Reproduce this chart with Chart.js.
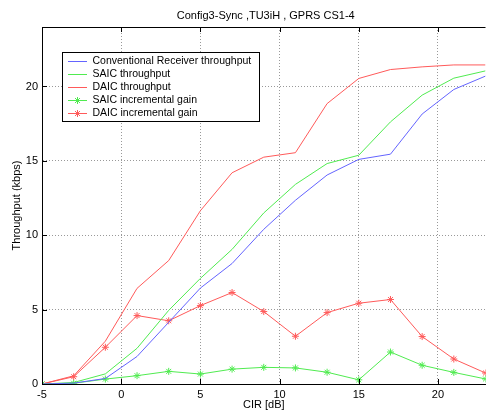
<!DOCTYPE html>
<html>
<head>
<meta charset="utf-8">
<script src="https://cdn.jsdelivr.net/npm/chart.js@4.4.0/dist/chart.umd.min.js"></script>
<style>
  html, body { margin: 0; padding: 0; background: #fff; }
</style>
</head>
<body>
<canvas id="chart" width="490" height="415"></canvas>
<script>
// CIR values (dB)
const cir = [-5, -3, -1, 1, 3, 5, 7, 9, 11, 13, 15, 17, 19, 21, 23];

// Throughput (kbps)
const convThroughput = [0, 0.06, 0.37, 1.85, 4.15, 6.45, 8.1, 10.4, 12.35, 14.05, 15.1, 15.45, 18.15, 19.8, 20.7];
const saicThroughput = [0, 0.1, 0.68, 2.4, 4.95, 7.1, 9.05, 11.5, 13.42, 14.82, 15.38, 17.62, 19.42, 20.56, 21.05];
const daicThroughput = [0, 0.55, 2.88, 6.43, 8.3, 11.65, 14.2, 15.25, 15.55, 18.85, 20.54, 21.14, 21.32, 21.45, 21.45];

// Incremental gains (kbps)
const saicGain = [0, 0.05, 0.33, 0.56, 0.85, 0.67, 1.0, 1.12, 1.08, 0.79, 0.28, 2.15, 1.26, 0.78, 0.34];
const daicGain = [0, 0.49, 2.47, 4.6, 4.25, 5.27, 6.15, 4.87, 3.21, 4.8, 5.43, 5.68, 3.19, 1.68, 0.74];

const seriesNames = [
    'Conventional Receiver throughput',
    'SAIC throughput',
    'DAIC throughput',
    'SAIC incremental gain',
    'DAIC incremental gain'
];

const xTicks = [-5, 0, 5, 10, 15, 20];
const yTicks = [0, 5, 10, 15, 20];

const chartTitle = 'Config3-Sync ,TU3iH , GPRS CS1-4';
const xLabel = 'CIR [dB]';
const yLabel = 'Throughput (kbps)';

const BLUE = 'rgb(100,100,255)';
const GREEN = 'rgb(80,235,80)';
const RED = 'rgb(255,90,90)';
const FONT = '"Liberation Sans", Arial, Helvetica, sans-serif';

function toPoints(ys) {
    return cir.map((x, i) => ({ x: x, y: ys[i] }));
}

function makeSet(label, ys, color, marker) {
    return {
        label: label,
        data: toPoints(ys),
        borderColor: color,
        backgroundColor: color,
        borderWidth: 1,
        pointStyle: 'star',
        pointRadius: marker ? 3.5 : 0,
        pointBorderWidth: 1,
        pointHoverRadius: marker ? 3.5 : 0,
        tension: 0
    };
}

function drawStar(ctx, x, y, r) {
    for (let a = 0; a < 4; a++) {
        let ang = a * Math.PI / 4;
        ctx.beginPath();
        ctx.moveTo(x - r * Math.cos(ang), y - r * Math.sin(ang));
        ctx.lineTo(x + r * Math.cos(ang), y + r * Math.sin(ang));
        ctx.stroke();
    }
}

// MATLAB-like frame: inward ticks, top border, title, labels and legend box
const matlabFrame = {
    id: 'matlabFrame',
    afterDraw(chart) {
        const ctx = chart.ctx;
        const area = chart.chartArea;
        const xs = chart.scales.x;
        const ys = chart.scales.y;
        ctx.save();
        ctx.strokeStyle = '#000';
        ctx.lineWidth = 1;

        // top border
        ctx.beginPath();
        ctx.moveTo(area.left, Math.round(area.top) + 0.5);
        ctx.lineTo(area.right, Math.round(area.top) + 0.5);
        ctx.stroke();

        // inward ticks
        ctx.beginPath();
        xTicks.forEach(v => {
            let px = Math.round(xs.getPixelForValue(v)) + 0.5;
            ctx.moveTo(px, area.bottom);
            ctx.lineTo(px, area.bottom - 5);
            ctx.moveTo(px, area.top);
            ctx.lineTo(px, area.top + 5);
        });
        yTicks.forEach(v => {
            let py = Math.round(ys.getPixelForValue(v)) + 0.5;
            ctx.moveTo(area.left, py);
            ctx.lineTo(area.left + 5, py);
        });
        ctx.stroke();

        // title and axis labels
        ctx.fillStyle = '#000';
        ctx.textAlign = 'center';
        ctx.textBaseline = 'middle';
        ctx.font = '11px ' + FONT;
        ctx.fillText(chartTitle, (area.left + area.right) / 2 + 2, 16);
        ctx.fillText(xLabel, (area.left + area.right) / 2, 405);
        ctx.save();
        ctx.translate(17, (area.top + area.bottom) / 2);
        ctx.rotate(-Math.PI / 2);
        ctx.fillText(yLabel, 0, 0);
        ctx.restore();

        // legend
        const bx = 62.5, by = 52.5, bw = 197, bh = 69;
        ctx.fillStyle = '#fff';
        ctx.fillRect(bx, by, bw, bh);
        ctx.strokeStyle = '#000';
        ctx.strokeRect(bx, by, bw, bh);
        ctx.font = '10.5px ' + FONT;
        ctx.textAlign = 'left';
        chart.data.datasets.forEach((ds, i) => {
            let ly = Math.round(61 + i * 13.1) + 0.5;
            ctx.strokeStyle = ds.borderColor;
            ctx.beginPath();
            ctx.moveTo(68, ly);
            ctx.lineTo(87, ly);
            ctx.stroke();
            if (ds.pointRadius > 0) drawStar(ctx, 77.5, ly, 3.5);
            ctx.fillStyle = '#000';
            ctx.fillText(ds.label, 92.5, ly);
        });
        ctx.restore();
    }
};

new Chart(document.getElementById('chart').getContext('2d'), {
    type: 'line',
    data: {
        datasets: [
            makeSet(seriesNames[0], convThroughput, BLUE, false),
            makeSet(seriesNames[1], saicThroughput, GREEN, false),
            makeSet(seriesNames[2], daicThroughput, RED, false),
            makeSet(seriesNames[3], saicGain, GREEN, true),
            makeSet(seriesNames[4], daicGain, RED, true)
        ]
    },
    options: {
        responsive: false,
        animation: false,
        devicePixelRatio: 1,
        layout: { padding: { top: 27, right: 0, bottom: 0, left: 0 } },
        plugins: {
            legend: { display: false },
            title: { display: false },
            tooltip: { enabled: false }
        },
        scales: {
            x: {
                type: 'linear',
                min: -5,
                max: 23,
                afterFit: s => { s.height = 31; },
                afterBuildTicks: s => { s.ticks = xTicks.map(v => ({ value: v })); },
                ticks: {
                    color: '#000',
                    font: { family: FONT, size: 11 },
                    padding: 4,
                    maxRotation: 0
                },
                grid: { color: '#999', lineWidth: 1, drawTicks: false },
                border: { color: '#000', width: 1, dash: [1, 2] }
            },
            y: {
                min: 0,
                max: 24,
                afterFit: s => { s.width = 42; },
                afterBuildTicks: s => { s.ticks = yTicks.map(v => ({ value: v })); },
                ticks: {
                    color: '#000',
                    font: { family: FONT, size: 11 },
                    padding: 4
                },
                grid: { color: '#999', lineWidth: 1, drawTicks: false },
                border: { color: '#000', width: 1, dash: [1, 2] }
            }
        }
    },
    plugins: [matlabFrame]
});
</script>
</body>
</html>
